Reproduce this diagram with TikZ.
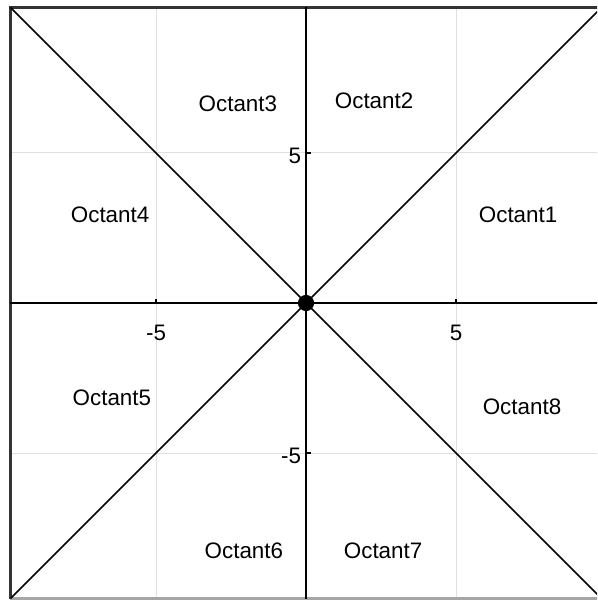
\documentclass[tikz,border=0pt]{standalone}
\usepackage{fontspec}
\setmainfont{Liberation Sans}

\begin{document}
\begin{tikzpicture}[x=15pt,y=15pt,
  gridline/.style={line width=0.5pt, black!12},
  axisline/.style={line width=1.1pt, black},
  diagline/.style={line width=0.8pt, black},
  octlabel/.style={font=\fontsize{11.2}{13}\selectfont, inner sep=0pt},
  ticklabel/.style={font=\fontsize{11.2}{13}\selectfont, inner sep=0pt}]
\useasboundingbox (-10.2,-9.933) rectangle (9.7,10.1);
\clip (-10.2,-9.933) rectangle (9.7,10.1);
% grid
\draw[gridline] (-5,-9.85) -- (-5,9.85);
\draw[gridline] (5,-9.85) -- (5,9.85);
\draw[gridline] (-9.85,-5) -- (9.85,-5);
\draw[gridline] (-9.85,5) -- (9.85,5);
% frame
\draw[line width=1.1pt, black!80] (-9.85,-9.85) -- (-9.85,9.85) -- (9.85,9.85);
\draw[line width=1.1pt, black!35] (-9.85,-9.85) -- (9.85,-9.85);
% diagonals
\draw[diagline] (-9.85,9.85) -- (9.85,-9.85);
\draw[diagline] (-9.85,-9.85) -- (9.85,9.85);
% axes
\draw[axisline] (-9.85,0) -- (9.85,0);
\draw[axisline] (0,-9.85) -- (0,9.85);
% ticks
\draw[line width=0.8pt] (-5,0) -- (-5,0.15);
\draw[line width=0.8pt] (5,0) -- (5,0.15);
\draw[line width=0.8pt] (0,-5) -- (0.15,-5);
\draw[line width=0.8pt] (0,5) -- (0.15,5);
\node[ticklabel] (xm5) at (-5,-1) {-5};
\node[ticklabel] (xp5) at (5,-1) {5};
\node[ticklabel, anchor=east] (yp5) at (-0.15,4.9) {5};
\node[ticklabel, anchor=east] (ym5) at (-0.15,-5.1) {-5};
% origin
\fill (0,0) circle (0.27);
% labels
\node[octlabel] (oct1) at (7.07,2.93) {Octant1};
\node[octlabel] (oct2) at (2.27,6.73) {Octant2};
\node[octlabel] (oct3) at (-2.27,6.63) {Octant3};
\node[octlabel] (oct4) at (-6.53,2.93) {Octant4};
\node[octlabel] (oct5) at (-6.47,-3.17) {Octant5};
\node[octlabel] (oct6) at (-2.07,-8.27) {Octant6};
\node[octlabel] (oct7) at (2.57,-8.27) {Octant7};
\node[octlabel] (oct8) at (7.2,-3.47) {Octant8};
\end{tikzpicture}
\end{document}
